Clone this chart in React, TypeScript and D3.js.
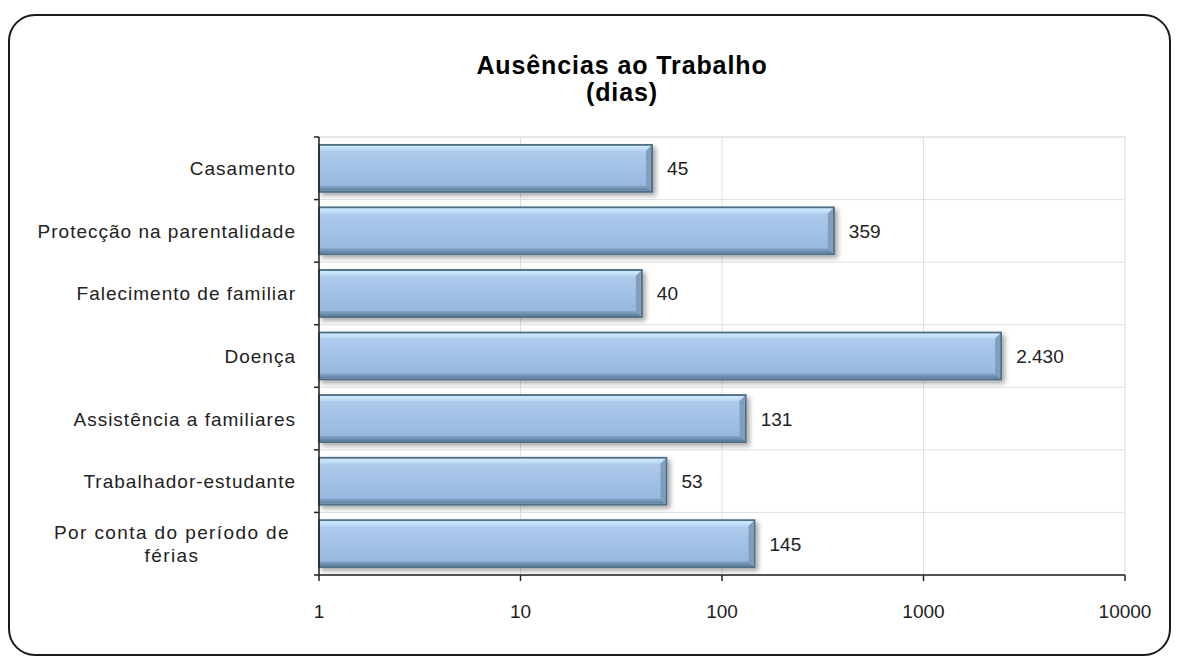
import React from "react";
import * as d3 from "d3";

const categories = [
  "Casamento",
  "Protecção na parentalidade",
  "Falecimento de familiar",
  "Doença",
  "Assistência a familiares",
  "Trabalhador-estudante",
  "Por conta do período de férias",
];
const values = [45, 359, 40, 2430, 131, 53, 145];
const tickValues = [1, 10, 100, 1000, 10000];
const titleLines = ["Ausências ao Trabalho", "(dias)"];

const W = 1179;
const H = 662;
const left = 319;
const right = 1125;
const top = 137;
const bottom = 575;

function wrap(label: string): string[] {
  if (label === "Por conta do período de férias") return ["Por conta do período de", "férias"];
  return [label];
}

function fmt(v: number): string {
  const s = String(v);
  return s.replace(/\B(?=(\d{3})+(?!\d))/g, ".");
}

export default function App() {
  const x = d3.scaleLog().domain([1, 10000]).range([left, right]);
  const y = d3.scaleBand<string>().domain(categories).range([top, bottom]).paddingInner(0.25).paddingOuter(0.125);
  const step = y.step();
  const font = "Liberation Sans, Arial, sans-serif";
  return (
    <svg width={W} height={H} style={{ position: "absolute", left: 0, top: 0 }}>
      <defs>
        <linearGradient id="barg" x1="0" y1="0" x2="0" y2="1">
          <stop offset="0" stopColor="#b2cff0" />
          <stop offset="0.5" stopColor="#a3c0e6" />
          <stop offset="1" stopColor="#97b5dc" />
        </linearGradient>
        <linearGradient id="topg" x1="0" y1="0" x2="0" y2="1">
          <stop offset="0" stopColor="#d2eafc" />
          <stop offset="1" stopColor="#b8d5f3" />
        </linearGradient>
        <linearGradient id="botg" x1="0" y1="0" x2="0" y2="1">
          <stop offset="0" stopColor="#86a6c8" />
          <stop offset="1" stopColor="#5f7f9e" />
        </linearGradient>
        <filter id="shadow" x="-5%" y="-20%" width="115%" height="160%">
          <feGaussianBlur in="SourceAlpha" stdDeviation="2.5" />
          <feOffset dx="3" dy="3" result="b" />
          <feComponentTransfer>
            <feFuncA type="linear" slope="0.35" />
          </feComponentTransfer>
          <feMerge>
            <feMergeNode />
            <feMergeNode in="SourceGraphic" />
          </feMerge>
        </filter>
      </defs>
      <rect x={0} y={0} width={W} height={H} fill="#ffffff" />
      <rect x={9} y={15} width={1161} height={640} rx={26} ry={26} fill="#ffffff" stroke="#1a1a1a" strokeWidth={2} />
      <text x={622} y={74} textAnchor="middle" fontFamily={font} fontWeight="bold" fontSize={25} letterSpacing={0.9} fill="#000">
        {titleLines[0]}
      </text>
      <text x={622} y={101} textAnchor="middle" fontFamily={font} fontWeight="bold" fontSize={25} letterSpacing={0.9} fill="#000">
        {titleLines[1]}
      </text>
      {/* plot area border */}
      <rect x={left} y={top} width={right - left} height={bottom - top} fill="none" stroke="#dcdcdc" strokeWidth={1} />
      {/* vertical grid */}
      {tickValues.slice(1, -1).map((t) => (
        <line key={"vg" + t} x1={x(t)} x2={x(t)} y1={top} y2={bottom} stroke="#e0e0e0" strokeWidth={1} />
      ))}
      {/* horizontal grid at category boundaries */}
      {d3.range(categories.length + 1).map((i) => (
        <line key={"hg" + i} x1={left} x2={right} y1={top + i * step} y2={top + i * step} stroke="#e0e0e0" strokeWidth={1} />
      ))}
      {/* bars */}
      {categories.map((c, i) => {
        const y0 = y(c)!;
        const h = y.bandwidth();
        const x0 = left;
        const x1 = x(values[i]);
        const b = 6;
        return (
          <g key={c} filter="url(#shadow)">
            <rect x={x0} y={y0} width={x1 - x0} height={h} fill="url(#barg)" stroke="#4f6f86" strokeWidth={1.5} />
            <polygon
              points={`${x0 + 1},${y0 + 1} ${x1 - 1},${y0 + 1} ${x1 - b},${y0 + b} ${x0 + 1},${y0 + b}`}
              fill="url(#topg)"
            />
            <polygon
              points={`${x0 + 1},${y0 + h - b} ${x1 - b},${y0 + h - b} ${x1 - 1},${y0 + h - 1} ${x0 + 1},${y0 + h - 1}`}
              fill="url(#botg)"
            />
            <polygon
              points={`${x1 - b},${y0 + b} ${x1 - 1},${y0 + 1} ${x1 - 1},${y0 + h - 1} ${x1 - b},${y0 + h - b}`}
              fill="#7f9fbe"
            />
            <rect x={x0} y={y0} width={x1 - x0} height={h} fill="none" stroke="#4f6f86" strokeWidth={1.5} />
          </g>
        );
      })}
      {/* data labels */}
      {categories.map((c, i) => (
        <text
          key={"dl" + c}
          x={x(values[i]) + 15}
          y={y(c)! + y.bandwidth() / 2 + 7}
          fontFamily={font}
          fontSize={19}
          fill="#222"
        >
          {fmt(values[i])}
        </text>
      ))}
      {/* y axis */}
      <line x1={left} x2={left} y1={top} y2={bottom} stroke="#222" strokeWidth={1.5} />
      {d3.range(categories.length + 1).map((i) => (
        <line key={"yt" + i} x1={left - 5} x2={left} y1={top + i * step} y2={top + i * step} stroke="#222" strokeWidth={1.5} />
      ))}
      {categories.map((c) => {
        const lines = wrap(c);
        const cy = top + categories.indexOf(c) * step + step / 2;
        const anchor = lines.length > 1 ? "middle" : "end";
        const tx = lines.length > 1 ? 172 : 296;
        return (
          <text key={"yl" + c} textAnchor={anchor} fontFamily={font} fontSize={19} letterSpacing={lines.length > 1 ? 1.4 : 1} fill="#222">
            {lines.map((l, k) => (
              <tspan key={k} x={tx} y={cy + 7 + (k - (lines.length - 1) / 2) * 23}>
                {l}
              </tspan>
            ))}
          </text>
        );
      })}
      {/* x axis */}
      <line x1={left} x2={right} y1={bottom} y2={bottom} stroke="#222" strokeWidth={1.5} />
      {tickValues.map((t) => (
        <g key={"xt" + t}>
          <line x1={x(t)} x2={x(t)} y1={bottom} y2={bottom + 6} stroke="#222" strokeWidth={1.5} />
          <text x={x(t)} y={bottom + 43} textAnchor="middle" fontFamily={font} fontSize={19} fill="#222">
            {t}
          </text>
        </g>
      ))}
    </svg>
  );
}
